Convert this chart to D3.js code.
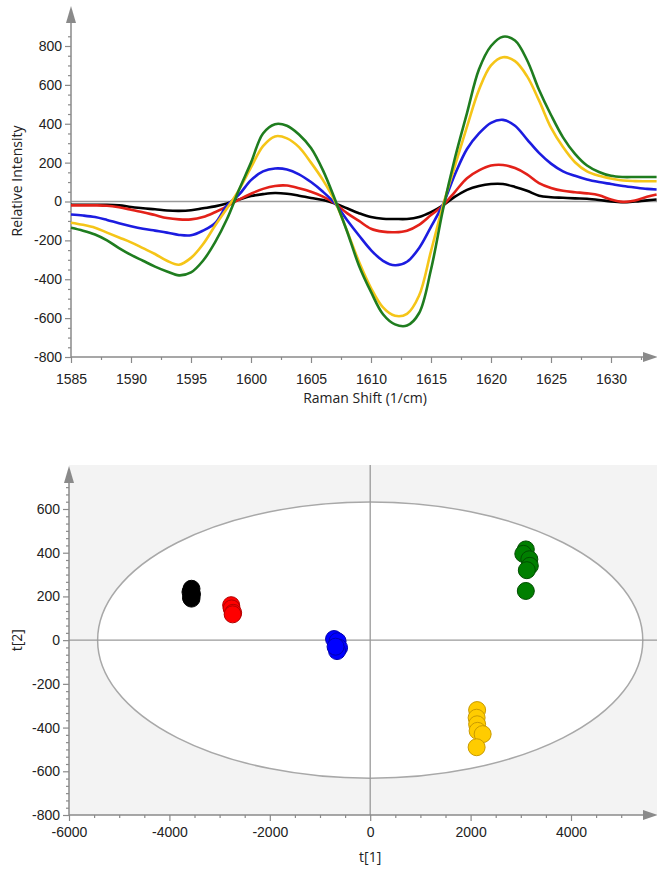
<!DOCTYPE html>
<html>
<head>
<meta charset="utf-8">
<script src="https://cdn.jsdelivr.net/npm/d3@7"></script>
<style>
  body { margin: 0; background: #fff; }
  svg { display: block; font-family: "Open Sans", sans-serif; }
  .tick text { font-size: 14px; fill: #222; }
</style>
</head>
<body>
<div id="chart"></div>
<script>
// ---- spectra (top panel) ----
var shift = [1585,1586,1587,1588,1589,1590,1591,1592,1593,1594,1595,1596,1597,1598,1599,1600,
  1601,1602,1603,1604,1605,1606,1607,1608,1609,1610,1611,1612,1613,1614,1615,1616,1617,1618,
  1619,1620,1621,1622,1623,1624,1625,1626,1627,1628,1629,1630,1631,1632,1633,1633.8];

var blackSpec = [-17,-17,-17,-17,-20,-28,-35,-40,-46,-48,-45,-35,-25,-10,10,28,
  38,44,40,30,18,8,-10,-35,-60,-80,-89,-90,-90,-80,-55,-20,25,60,
  80,90,90,75,55,30,22,19,16,14,8,0,-4,0,6,10];
var redSpec = [-20,-20,-20,-22,-30,-42,-55,-70,-85,-92,-92,-80,-55,-25,10,40,
  65,80,82,68,50,25,-10,-60,-100,-140,-155,-158,-150,-120,-70,-20,50,120,
  160,185,188,172,140,95,70,55,48,42,32,10,-2,5,25,36];
var blueSpec = [-67,-72,-80,-95,-112,-127,-140,-150,-160,-172,-174,-150,-112,-20,35,110,
  155,170,165,140,100,50,-10,-95,-175,-250,-305,-328,-310,-240,-130,-15,140,270,
  350,405,420,390,320,250,195,155,132,113,100,90,80,72,65,62];
var yellowSpec = [-109,-120,-135,-160,-185,-210,-240,-270,-305,-325,-290,-220,-125,-35,60,175,
  285,335,325,280,200,110,0,-150,-310,-445,-545,-588,-578,-485,-255,-20,185,385,
  575,700,742,722,645,520,380,280,202,155,132,118,108,105,104,104];
var greenSpec = [-135,-150,-170,-200,-240,-275,-305,-335,-360,-380,-365,-305,-210,-90,60,200,
  350,398,390,345,275,160,10,-153,-330,-465,-580,-632,-638,-575,-350,-41,225,455,
  680,800,848,828,728,575,445,330,245,185,152,132,126,126,126,126];

var specNames = ["black", "red", "blue", "yellow", "green"];
var specColors = ["#000000", "#e32119", "#1c1ce0", "#f5c518", "#1f7d1f"];
var specValues = [blackSpec, redSpec, blueSpec, yellowSpec, greenSpec];

var topYTicks = [-800,-600,-400,-200,0,200,400,600,800];
var topXTicks = [1585,1590,1595,1600,1605,1610,1615,1620,1625,1630];

// ---- scores (bottom panel) ----
var blackT1 = [-3560,-3580,-3550,-3570,-3560];
var blackT2 = [235,220,210,195,190];
var redT1 = [-2770,-2760,-2730,-2740];
var redT2 = [160,145,125,118];
var blueT1 = [-720,-650,-620,-660,-690];
var blueT2 = [5,-5,-35,-50,-30];
var greenT1 = [3100,3050,3170,3180,3120,3100];
var greenT2 = [415,395,370,340,320,225];
var yellowT1 = [2130,2120,2130,2140,2240,2120];
var yellowT2 = [-320,-355,-385,-415,-430,-490];

var groupFill = ["#000000", "#ff0000", "#0000ff", "#007f00", "#ffcc00"];
var groupStroke = ["#000000", "#b30000", "#0000b0", "#004d00", "#c99a00"];
var groupT1 = [blackT1, redT1, blueT1, greenT1, yellowT1];
var groupT2 = [blackT2, redT2, blueT2, greenT2, yellowT2];

var botXTicks = [-6000,-4000,-2000,0,2000,4000];
var botYTicks = [-800,-600,-400,-200,0,200,400,600];
var ellipseR = [5430, 632];

var W = 657, H = 869;
var axisColor = "#8a8a8a";

var svg = d3.select("#chart")
  .append("svg")
    .attr("width", W)
    .attr("height", H);

function arrowUp(g, x, yTip) {
  g.append("path")
    .attr("d", `M${x},${yTip} L${x-5},${yTip+17} L${x+5},${yTip+17} Z`)
    .attr("fill", axisColor);
}
function arrowRight(g, xTip, y) {
  g.append("path")
    .attr("d", `M${xTip},${y} L${xTip-15},${y-5} L${xTip-15},${y+5} Z`)
    .attr("fill", axisColor);
}
function styleAxis(g) {
  g.select(".domain").remove();
  g.selectAll(".tick line").attr("stroke", axisColor).attr("stroke-width", 1.2);
}
var fmt = function(d) { return String(d); };

// ================= TOP PANEL =================
var xTop = d3.scaleLinear().domain([1585, 1630]).range([71, 611]);
var yTop = d3.scaleLinear().domain([-800, 800]).range([357, 46]);

var topG = svg.append("g");

// zero line
topG.append("line")
  .attr("x1", xTop(1585)).attr("x2", W)
  .attr("y1", yTop(0)).attr("y2", yTop(0))
  .attr("stroke", "#9a9a9a").attr("stroke-width", 1.3);

// minor ticks
var topYMinor = d3.range(-800, 851, 50).filter(function(d) { return d % 200 !== 0; });
var topXMinor = d3.range(1587.5, 1633, 5);

topG.append("g").attr("transform", `translate(${xTop(1585)},0)`)
  .call(d3.axisLeft(yTop).tickValues(topYMinor).tickSize(3).tickFormat(""))
  .call(styleAxis);
topG.append("g").attr("transform", `translate(${xTop(1585)},0)`)
  .call(d3.axisLeft(yTop).tickValues(topYTicks).tickSize(6).tickPadding(3).tickFormat(fmt))
  .call(styleAxis);
topG.append("g").attr("transform", `translate(0,${yTop(-800)})`)
  .call(d3.axisBottom(xTop).tickValues(topXMinor).tickSize(3).tickFormat(""))
  .call(styleAxis);
topG.append("g").attr("transform", `translate(0,${yTop(-800)})`)
  .call(d3.axisBottom(xTop).tickValues(topXTicks).tickSize(6).tickPadding(11).tickFormat(fmt))
  .call(styleAxis);

// axis lines + arrows
topG.append("line")
  .attr("x1", xTop(1585)).attr("x2", xTop(1585))
  .attr("y1", yTop(-800)).attr("y2", 20)
  .attr("stroke", axisColor).attr("stroke-width", 1.5);
arrowUp(topG, xTop(1585), 6);
topG.append("line")
  .attr("x1", xTop(1585)).attr("x2", 645)
  .attr("y1", yTop(-800)).attr("y2", yTop(-800))
  .attr("stroke", axisColor).attr("stroke-width", 1.5);
arrowRight(topG, 658, yTop(-800));

// spectra
var line = d3.line()
  .x(function(d, i) { return xTop(shift[i]); })
  .y(function(d) { return yTop(d); })
  .curve(d3.curveCatmullRom.alpha(0.5));

topG.selectAll(".spec")
  .data(specValues)
  .enter()
  .append("path")
    .attr("class", function(d, i) { return "spec " + specNames[i]; })
    .attr("fill", "none")
    .attr("stroke", function(d, i) { return specColors[i]; })
    .attr("stroke-width", 2.6)
    .attr("d", line);

// titles
topG.append("text")
  .attr("x", 365).attr("y", 403)
  .attr("text-anchor", "middle")
  .style("font-size", "14px").style("fill", "#222")
  .text("Raman Shift (1/cm)");
topG.append("text")
  .attr("transform", "translate(22,181) rotate(-90)")
  .attr("text-anchor", "middle")
  .style("font-size", "14px").style("fill", "#222")
  .text("Relative Intensity");

// ================= BOTTOM PANEL =================
var xBot = d3.scaleLinear().domain([-6000, 4000]).range([69, 571]);
var yBot = d3.scaleLinear().domain([-800, 600]).range([815, 509]);

var botG = svg.append("g");

// plot background
botG.append("rect")
  .attr("x", xBot(-6000)).attr("y", 465)
  .attr("width", W - xBot(-6000)).attr("height", yBot(-800) - 465)
  .attr("fill", "#f3f3f3");

// confidence ellipse
botG.append("ellipse")
  .attr("cx", xBot(0)).attr("cy", yBot(0))
  .attr("rx", xBot(ellipseR[0]) - xBot(0))
  .attr("ry", yBot(0) - yBot(ellipseR[1]))
  .attr("fill", "#ffffff")
  .attr("stroke", "#a8a8a8").attr("stroke-width", 1.5);

// crosshair
botG.append("line")
  .attr("x1", xBot(-6000)).attr("x2", W)
  .attr("y1", yBot(0)).attr("y2", yBot(0))
  .attr("stroke", "#9a9a9a").attr("stroke-width", 1.3);
botG.append("line")
  .attr("x1", xBot(0)).attr("x2", xBot(0))
  .attr("y1", 465).attr("y2", yBot(-800))
  .attr("stroke", "#9a9a9a").attr("stroke-width", 1.3);

// ticks
var botXMinor = d3.range(-6000, 5501, 500).filter(function(d) { return d % 2000 !== 0; });
var botYMinor = d3.range(0, 46).map(function(i) { return -800 + i * 200 / 6; })
  .filter(function(d, i) { return i % 6 !== 0; });

botG.append("g").attr("transform", `translate(${xBot(-6000)},0)`)
  .call(d3.axisLeft(yBot).tickValues(botYMinor).tickSize(3).tickFormat(""))
  .call(styleAxis);
botG.append("g").attr("transform", `translate(${xBot(-6000)},0)`)
  .call(d3.axisLeft(yBot).tickValues(botYTicks).tickSize(6).tickPadding(3).tickFormat(fmt))
  .call(styleAxis);
botG.append("g").attr("transform", `translate(0,${yBot(-800)})`)
  .call(d3.axisBottom(xBot).tickValues(botXMinor).tickSize(3).tickFormat(""))
  .call(styleAxis);
botG.append("g").attr("transform", `translate(0,${yBot(-800)})`)
  .call(d3.axisBottom(xBot).tickValues(botXTicks).tickSize(6).tickPadding(6).tickFormat(fmt))
  .call(styleAxis);

botG.append("line")
  .attr("x1", xBot(-6000)).attr("x2", xBot(-6000))
  .attr("y1", yBot(-800)).attr("y2", 480)
  .attr("stroke", axisColor).attr("stroke-width", 1.5);
arrowUp(botG, xBot(-6000), 466);
botG.append("line")
  .attr("x1", xBot(-6000)).attr("x2", 645)
  .attr("y1", yBot(-800)).attr("y2", yBot(-800))
  .attr("stroke", axisColor).attr("stroke-width", 1.5);
arrowRight(botG, 658, yBot(-800));

// score points
groupT1.forEach(function(t1, gi) {
  botG.append("g")
    .selectAll("circle")
    .data(t1)
    .enter()
    .append("circle")
      .attr("cx", function(d) { return xBot(d); })
      .attr("cy", function(d, i) { return yBot(groupT2[gi][i]); })
      .attr("r", 8.5)
      .attr("fill", groupFill[gi])
      .attr("stroke", groupStroke[gi])
      .attr("stroke-width", 1);
});

botG.append("text")
  .attr("x", xBot(0)).attr("y", 862)
  .attr("text-anchor", "middle")
  .style("font-size", "14px").style("fill", "#222")
  .text("t[1]");
botG.append("text")
  .attr("transform", `translate(22,${yBot(0)}) rotate(-90)`)
  .attr("text-anchor", "middle")
  .style("font-size", "14px").style("fill", "#222")
  .text("t[2]");
</script>
</body>
</html>
